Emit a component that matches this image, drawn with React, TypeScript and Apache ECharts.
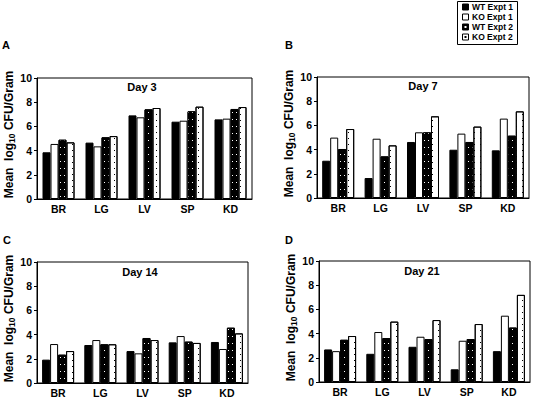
import React, { useEffect, useRef } from "react";
import * as echarts from "echarts";

const categories = ["BR", "LG", "LV", "SP", "KD"];
const groupNames = ["WT Expt 1", "KO Expt 1", "WT Expt 2", "KO Expt 2"];
const yTicks = [0, 2, 4, 6, 8, 10];

const day3WT1 = [3.86, 4.66, 6.91, 6.39, 6.58];
const day3KO1 = [4.55, 4.35, 6.75, 6.47, 6.64];
const day3WT2 = [4.9, 5.1, 7.41, 7.25, 7.44];
const day3KO2 = [4.68, 5.2, 7.52, 7.63, 7.6];

const day7WT1 = [3.08, 1.65, 4.63, 3.99, 3.94];
const day7KO1 = [4.99, 4.9, 5.43, 5.32, 6.56];
const day7WT2 = [4.05, 3.44, 5.43, 4.63, 5.15];
const day7KO2 = [5.7, 4.35, 6.75, 5.9, 7.16];

const day14WT1 = [1.93, 3.14, 2.64, 3.36, 3.39];
const day14KO1 = [3.22, 3.55, 2.45, 3.88, 2.81];
const day14WT2 = [2.34, 3.2, 3.72, 3.42, 4.57];
const day14KO2 = [2.64, 3.2, 3.55, 3.31, 4.1];

const day21WT1 = [2.69, 2.33, 2.91, 1.05, 2.55];
const day21KO1 = [2.55, 4.13, 3.74, 3.41, 5.48];
const day21WT2 = [3.49, 3.63, 3.55, 3.55, 4.5];
const day21KO2 = [3.8, 4.99, 5.12, 4.79, 7.2];

const panelTitles = ["Day 3", "Day 7", "Day 14", "Day 21"];
const panelLetters = ["A", "B", "C", "D"];
const panelData = [
  [day3WT1, day3KO1, day3WT2, day3KO2],
  [day7WT1, day7KO1, day7WT2, day7KO2],
  [day14WT1, day14KO1, day14WT2, day14KO2],
  [day21WT1, day21KO1, day21WT2, day21KO2],
];

const FONT = "'Liberation Sans', Arial, Helvetica, sans-serif";

const grids = [
  { left: 37, top: 78, width: 215, height: 121 },
  { left: 317, top: 77, width: 212, height: 121 },
  { left: 37, top: 262, width: 211, height: 121 },
  { left: 319, top: 261, width: 211, height: 121 },
];
const titlePos = [
  [142, 87],
  [423, 86],
  [140, 272],
  [422, 271],
];
const letterPos = [
  [6, 45],
  [289, 45],
  [7, 240],
  [289, 240],
];

const styles: any[] = [
  { color: "#000", borderColor: "#000", borderWidth: 1 },
  { color: "#fff", borderColor: "#000", borderWidth: 1 },
  {
    color: "#000",
    borderColor: "#000",
    borderWidth: 1,
    decal: { symbol: "rect", symbolSize: 1, color: "#fff", dashArrayX: [1, 3], dashArrayY: [1, 6] },
  },
  {
    color: "#fff",
    borderColor: "#000",
    borderWidth: 1,
    decal: { symbol: "rect", symbolSize: 1, color: "#000", dashArrayX: [1, 5], dashArrayY: [1, 5] },
  },
];

export default function App() {
  const ref = useRef<HTMLDivElement>(null);
  useEffect(() => {
    document.body.style.margin = "0";
    const chart = echarts.init(ref.current!, null, { renderer: "svg" });
    const series: any[] = [];
    panelData.forEach((groups, p) => {
      groups.forEach((vals, g) => {
        series.push({
          type: "bar",
          name: groupNames[g],
          xAxisIndex: p,
          yAxisIndex: p,
          data: vals,
          barWidth: 8,
          barGap: "0%",
          itemStyle: styles[g],
          emphasis: { disabled: true },
        });
      });
    });
    const graphic: any[] = [];
    panelTitles.forEach((t, p) => {
      graphic.push({
        type: "text",
        x: titlePos[p][0],
        y: titlePos[p][1],
        style: { text: t, font: `bold 11px ${FONT}`, fill: "#000", align: "center", verticalAlign: "middle" },
      });
      graphic.push({
        type: "text",
        x: letterPos[p][0],
        y: letterPos[p][1],
        style: { text: panelLetters[p], font: `bold 11px ${FONT}`, fill: "#000", align: "center", verticalAlign: "middle" },
      });
    });
    // legend
    graphic.push({
      type: "rect",
      shape: { x: 457.5, y: 1.5, width: 60, height: 43 },
      style: { fill: "#fff", stroke: "#000", lineWidth: 1 },
    });
    const rowY = [7, 17, 27, 37];
    groupNames.forEach((n, i) => {
      const y = rowY[i];
      const dark = i % 2 === 0;
      graphic.push({
        type: "rect",
        shape: { x: 462.5, y: y - 3, width: 6, height: 6 },
        style: { fill: dark ? "#000" : "#fff", stroke: "#000", lineWidth: 1 },
      });
      if (i >= 2) {
        graphic.push({
          type: "rect",
          shape: { x: 464.5, y: y - 1, width: 2, height: 2 },
          style: { fill: dark ? "#fff" : "#000" },
        });
      }
      graphic.push({
        type: "text",
        x: 472,
        y,
        style: { text: n, font: `bold 8.5px ${FONT}`, fill: "#000", align: "left", verticalAlign: "middle" },
      });
    });

    chart.setOption({
      animation: false,
      grid: grids.map((g) => ({ ...g, show: true, borderColor: "#000", borderWidth: 1, backgroundColor: "transparent", containLabel: false })),
      xAxis: grids.map((_, p) => ({
        type: "category",
        gridIndex: p,
        data: categories,
        axisLine: { lineStyle: { color: "#000", width: 1 } },
        axisTick: { show: false },
        axisLabel: { color: "#000", fontFamily: FONT, fontWeight: "bold", fontSize: 10.5, margin: 4 },
      })),
      yAxis: grids.map((_, p) => ({
        type: "value",
        gridIndex: p,
        min: yTicks[0],
        max: yTicks[yTicks.length - 1],
        interval: 2,
        splitLine: { show: false },
        axisLine: { show: true, lineStyle: { color: "#000", width: 1 } },
        axisTick: { show: true, length: 3, lineStyle: { color: "#000" } },
        axisLabel: { color: "#000", fontFamily: FONT, fontWeight: "bold", fontSize: 10.5, margin: 5 },
        name: "Mean  log{sub|10} CFU/Gram",
        nameLocation: "middle",
        nameRotate: 90,
        nameGap: 19,
        nameTextStyle: {
          color: "#000",
          fontFamily: FONT,
          fontWeight: "bold",
          fontSize: 12,
          lineHeight: 14,
          padding: [0, 0, 0, 8],
          rich: {
            sub: { fontFamily: FONT, fontWeight: "bold", fontSize: 8.5, lineHeight: 10, verticalAlign: "bottom", color: "#000" },
          },
        },
      })),
      series,
      graphic,
    });
    return () => chart.dispose();
  }, []);
  return <div ref={ref} style={{ width: 534, height: 399 }} />;
}
